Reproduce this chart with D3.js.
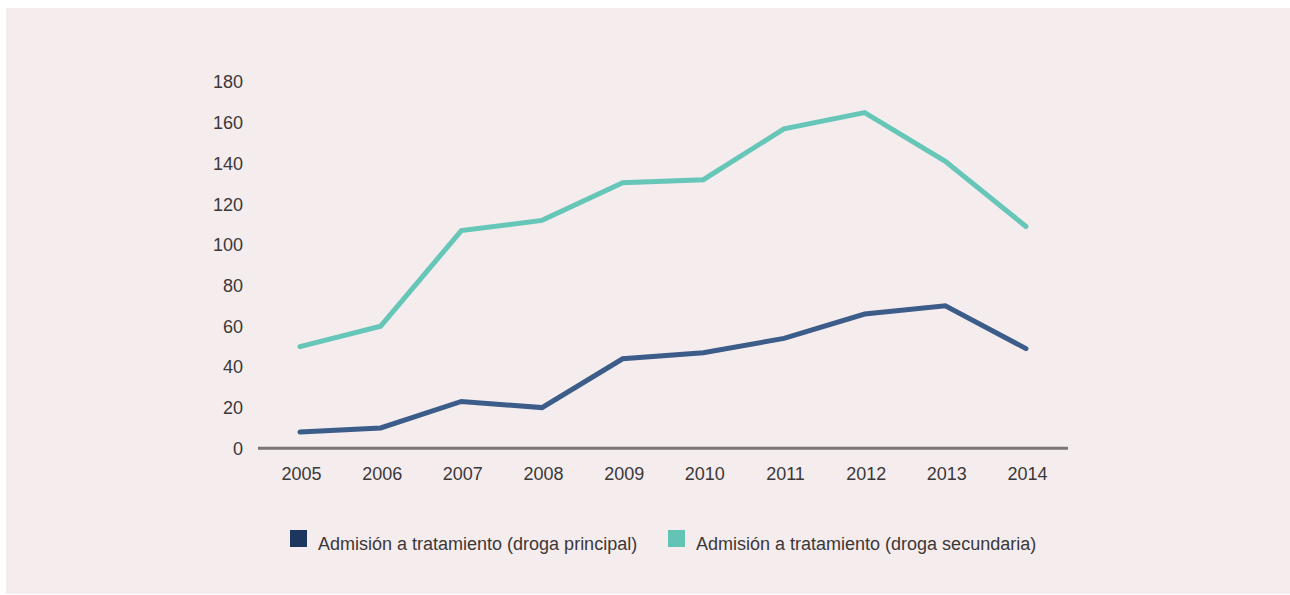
<!DOCTYPE html>
<html>
<head>
<meta charset="utf-8">
<script src="https://cdn.jsdelivr.net/npm/d3@7"></script>
<style>
  html, body { margin: 0; padding: 0; background: #ffffff; }
  svg { display: block; }
  text { font-family: "Liberation Sans", Arial, sans-serif; fill: #3b3838; }
</style>
</head>
<body>
<svg id="chart" width="1290" height="595"></svg>
<script>
const years = ["2005","2006","2007","2008","2009","2010","2011","2012","2013","2014"];
const principal = [8, 10, 23, 20, 44, 47, 54, 66, 70, 49];
const secundaria = [50, 60, 107, 112, 130.5, 132, 157, 165, 141, 109];
const yTicks = [0, 20, 40, 60, 80, 100, 120, 140, 160, 180];
const seriesNames = ["Admisión a tratamiento (droga principal)", "Admisión a tratamiento (droga secundaria)"];
const lineColors = ["#3c5c89", "#66c6b8"];
const legendColors = ["#1c365f", "#63c3b5"];

const svg = d3.select("#chart");
svg.append("rect").attr("x", 6).attr("y", 8).attr("width", 1284).attr("height", 586).attr("fill", "#f5ecee");

const x = d3.scalePoint().domain(years).range([300, 1026]);
const y = d3.scaleLinear().domain([0, 180]).range([448.3, 82]);

// y tick labels
svg.append("g").selectAll("text").data(yTicks).join("text")
  .attr("x", 243).attr("y", d => y(d)).attr("dy", "0.36em")
  .attr("text-anchor", "end").attr("font-size", 18).text(d => d);

// x axis line
svg.append("line").attr("x1", 258).attr("x2", 1068).attr("y1", y(0)).attr("y2", y(0))
  .attr("stroke", "#7b7575").attr("stroke-width", 3);

// x labels
svg.append("g").selectAll("text").data(years).join("text")
  .attr("x", d => x(d) + 1.5).attr("y", 480)
  .attr("text-anchor", "middle").attr("font-size", 18).text(d => d);

const line = d3.line().x((d, i) => x(years[i])).y(d => y(d));
[principal, secundaria].forEach((s, k) => {
  svg.append("path").datum(s).attr("d", line).attr("fill", "none")
    .attr("stroke", lineColors[k]).attr("stroke-width", 5)
    .attr("stroke-linejoin", "miter").attr("stroke-linecap", "round");
});

// legend
const legX = [290, 668];
seriesNames.forEach((n, k) => {
  svg.append("rect").attr("x", legX[k]).attr("y", 530).attr("width", 17).attr("height", 17).attr("fill", legendColors[k]);
  svg.append("text").attr("x", legX[k] + 28).attr("y", 550).attr("font-size", 18).text(n);
});
</script>
</body>
</html>
